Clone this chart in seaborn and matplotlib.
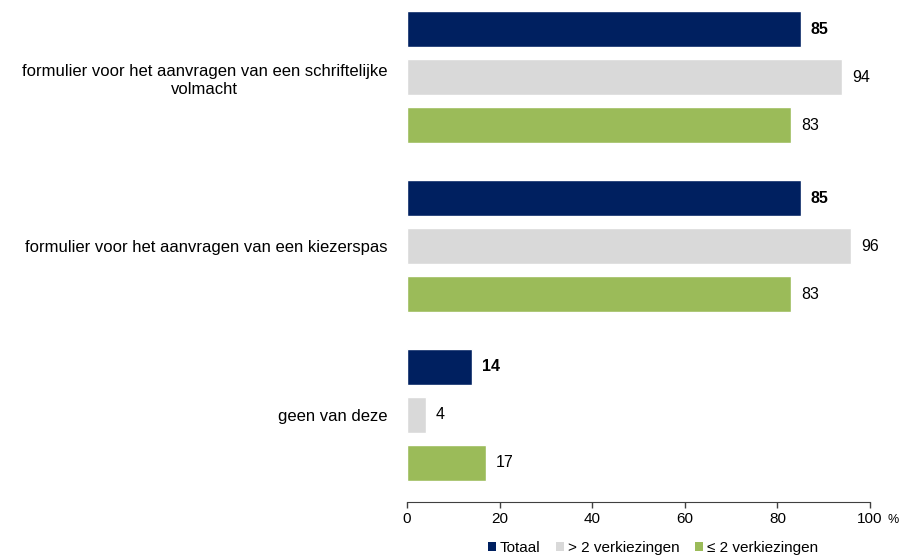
import numpy as np
import pandas as pd
import seaborn as sns
import matplotlib.pyplot as plt
from matplotlib.patches import Patch

categories = [
    "formulier voor het aanvragen van een schriftelijke\nvolmacht",
    "formulier voor het aanvragen van een kiezerspas",
    "geen van deze",
]
series = ["Totaal", "> 2 verkiezingen", "\u2264 2 verkiezingen"]
totaal = [85, 85, 14]
meer_dan_2 = [94, 96, 4]
max_2 = [83, 83, 17]
colors = ["#002060", "#D9D9D9", "#9BBB59"]

rows = []
for serie, vals in zip(series, [totaal, meer_dan_2, max_2]):
    for cat, v in zip(categories, vals):
        rows.append({"categorie": cat, "groep": serie, "waarde": v})
df = pd.DataFrame(rows)

sns.set_style("white")
plt.rcParams["font.family"] = ["Liberation Sans", "DejaVu Sans"]
plt.rcParams["text.color"] = "black"
plt.rcParams["xtick.color"] = "black"
plt.rcParams["ytick.color"] = "black"

fig = plt.figure(figsize=(9.01, 5.59), dpi=100)
ax = fig.add_axes([407 / 901, 57 / 559, 463 / 901, 502 / 559])

sns.barplot(
    data=df, y="categorie", x="waarde", hue="groep",
    order=categories, hue_order=series, palette=colors, saturation=1,
    width=144 / 169, gap=0.25, orient="h", legend=False, ax=ax,
)

# waardelabels
for container, serie in zip(ax.containers, series):
    weight = "bold" if serie == "Totaal" else "normal"
    ax.bar_label(container, padding=7, fontsize=11.5, fontweight=weight)

ax.set_xlim(0, 100)
ax.set_ylim(2.515, -0.456)
ax.set_xticks([0, 20, 40, 60, 80, 100])
ax.set_xlabel("")
ax.set_ylabel("")
ax.tick_params(axis="x", length=4, width=1, color="#404040", direction="out",
               bottom=True, labelsize=11, pad=3)
ax.tick_params(axis="y", length=0, labelsize=12, pad=14)
for lbl in ax.get_yticklabels():
    lbl.set_multialignment("center")
    lbl.set_linespacing(1.3)

for side in ["top", "right", "left"]:
    ax.spines[side].set_visible(False)
ax.spines["bottom"].set_color("#404040")

fig.text(887 / 901, 1 - 520 / 559, "%", fontsize=9, ha="left", va="center")

handles = [Patch(facecolor=c, edgecolor="none") for c in colors]
fig.legend(handles, series, loc="center", bbox_to_anchor=(653 / 901, 1 - 548 / 559),
           ncol=3, frameon=False, fontsize=11, handlelength=0.55, handleheight=0.55,
           handletextpad=0.25, columnspacing=1.0)

fig.savefig("out.png", dpi=100)
